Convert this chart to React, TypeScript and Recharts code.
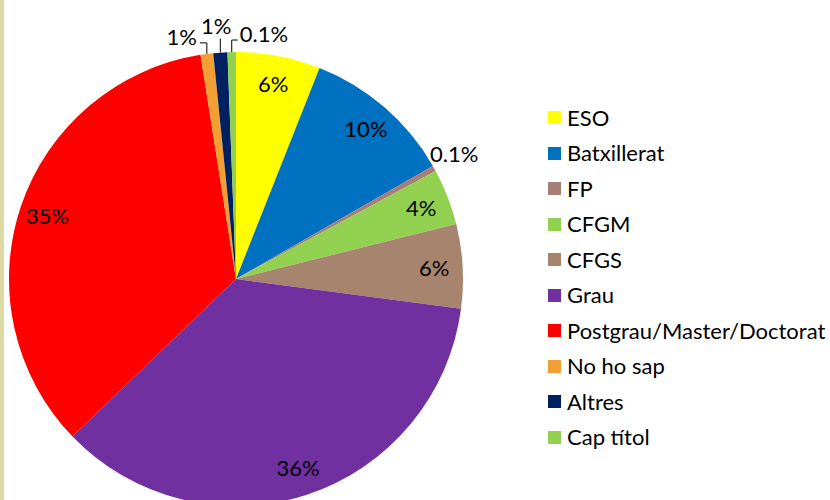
import React from 'react';
import { PieChart, Pie, Cell, Legend } from 'recharts';

const categories = [
  'ESO',
  'Batxillerat',
  'FP',
  'CFGM',
  'CFGS',
  'Grau',
  'Postgrau/Master/Doctorat',
  'No ho sap',
  'Altres',
  'Cap títol',
];
const shares = [6.0, 10.7, 0.4, 4.0, 6.0, 35.7, 34.7, 0.9, 1.0, 0.6];
const shareLabels = ['6%', '10%', '0.1%', '4%', '6%', '36%', '35%', '1%', '1%', '0.1%'];
const colors = [
  '#FFFF00',
  '#0070C0',
  '#A67E77',
  '#92D050',
  '#A6846E',
  '#7030A0',
  '#FF0000',
  '#F2A033',
  '#002060',
  '#92D050',
];

const data = categories.map((name, i) => ({ name, value: shares[i] }));

const FONT = 'Lato, "Open Sans", sans-serif';
const RADIAN = Math.PI / 180;

// small slices get their label outside, some with an elbow leader line
const callouts: Record<number, { line?: number[][]; dx: number; dy: number; anchor: 'start' | 'middle' | 'end' }> = {
  2: { dx: 20, dy: -15, anchor: 'middle' },
  7: { line: [[0, 0], [0, -11], [-7, -11]], dx: -10, dy: -17, anchor: 'end' },
  8: { line: [[0, 0], [0, -14]], dx: -4, dy: -27, anchor: 'middle' },
  9: { line: [[0, 0], [0, -12], [6, -12]], dx: 8, dy: -19, anchor: 'start' },
};

const renderLabel = (props: any) => {
  const { cx, cy, midAngle, outerRadius, index } = props;
  const cos = Math.cos(-midAngle * RADIAN);
  const sin = Math.sin(-midAngle * RADIAN);
  const text = shareLabels[index];
  const c = callouts[index];
  if (!c) {
    const r = outerRadius * 0.875;
    return (
      <text
        x={cx + r * cos}
        y={cy + r * sin}
        textAnchor="middle"
        dominantBaseline="central"
        fontFamily={FONT}
        fontSize={22}
        fill="#000"
      >
        {text}
      </text>
    );
  }
  const ax = cx + outerRadius * cos;
  const ay = cy + outerRadius * sin;
  return (
    <g>
      {c.line && (
        <polyline
          points={c.line.map(([px, py]) => `${ax + px},${ay + py}`).join(' ')}
          fill="none"
          stroke="#000"
          strokeWidth={1}
        />
      )}
      <text
        x={ax + c.dx}
        y={ay + c.dy}
        textAnchor={c.anchor}
        dominantBaseline="central"
        fontFamily={FONT}
        fontSize={22}
        fill="#000"
      >
        {text}
      </text>
    </g>
  );
};

const renderLegend = () => (
  <div style={{ fontFamily: FONT, fontSize: 22, color: '#000' }}>
    {categories.map((name, i) => (
      <div key={name} style={{ display: 'flex', alignItems: 'center', height: 35.5 }}>
        <span style={{ width: 13, height: 13, background: colors[i], marginRight: 6, display: 'inline-block' }} />
        <span style={{ lineHeight: '22px' }}>{name}</span>
      </div>
    ))}
  </div>
);

export default function App() {
  return (
    <div
      style={{
        position: 'fixed',
        left: 0,
        top: 0,
        width: 830,
        height: 500,
        background: '#fff',
        overflow: 'hidden',
      }}
    >
      <div style={{ position: 'absolute', left: 0, top: 0, width: 4, height: 500, background: '#DCD9A2' }} />
      <PieChart width={830} height={500} margin={{ top: 0, right: 0, bottom: 0, left: 0 }}>
        <Pie
          data={data}
          dataKey="value"
          nameKey="name"
          cx={236}
          cy={279}
          outerRadius={227}
          startAngle={90}
          endAngle={-270}
          stroke="none"
          label={renderLabel}
          labelLine={false}
          isAnimationActive={false}
        >
          {data.map((entry, i) => (
            <Cell key={entry.name} fill={colors[i]} />
          ))}
        </Pie>
        <Legend
          layout="vertical"
          content={renderLegend}
          wrapperStyle={{ left: 548, top: 100, width: 282 }}
        />
      </PieChart>
    </div>
  );
}
